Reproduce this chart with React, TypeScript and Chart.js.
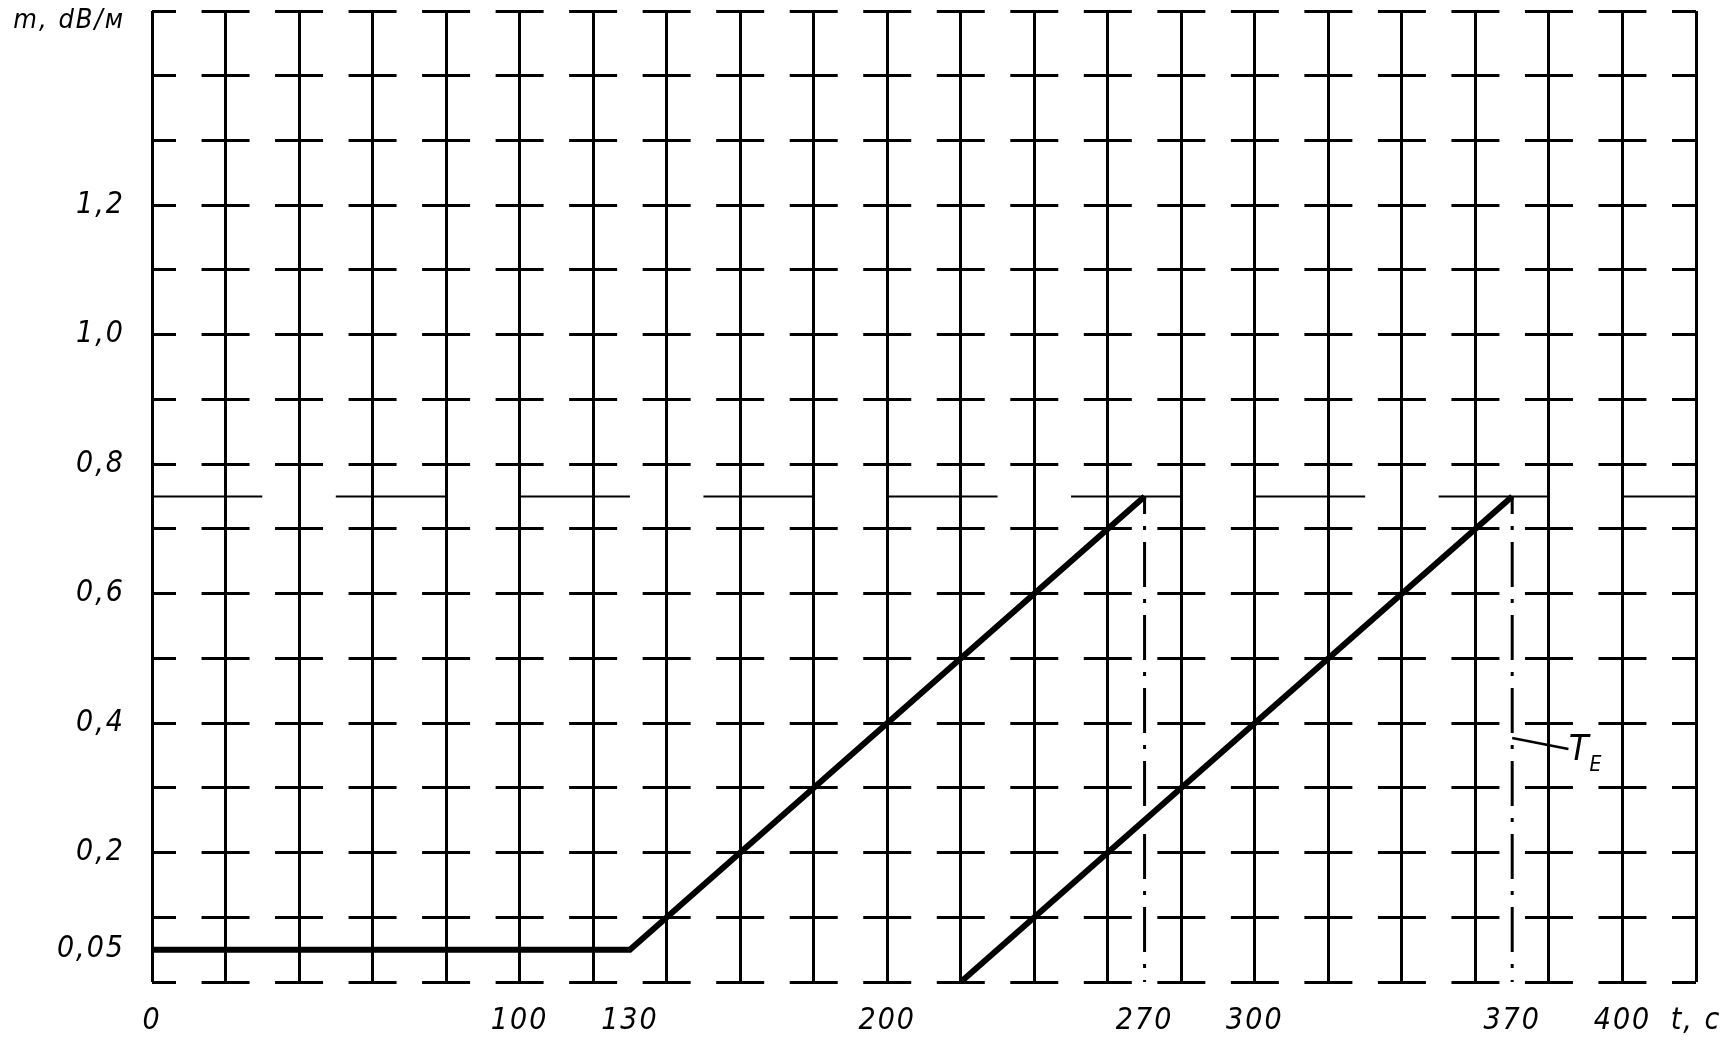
import React, { useEffect, useRef } from "react";
import { Chart, registerables } from "chart.js";

Chart.register(...registerables);

// ---- grid (every 20 s / every 0.1 dB/m) ----
const X_GRID = [0, 20, 40, 60, 80, 100, 120, 140, 160, 180, 200, 220, 240, 260, 280, 300, 320, 340, 360, 380, 400, 420];
const Y_GRID = [0, 0.1, 0.2, 0.3, 0.4, 0.5, 0.6, 0.7, 0.8, 0.9, 1.0, 1.1, 1.2, 1.3, 1.4, 1.5];

// ---- tick labels ----
const X_TICK_VALUES = [0, 100, 130, 200, 270, 300, 370, 400, 420];
const X_TICK_LABELS = ["0", "100", "130", "200", "270", "300", "370", "400", "t, с"];
const Y_TICK_VALUES = [0.05, 0.2, 0.4, 0.6, 0.8, 1.0, 1.2];
const Y_TICK_LABELS = ["0,05", "0,2", "0,4", "0,6", "0,8", "1,0", "1,2"];
const Y_AXIS_TITLE = "m, dB/м";

// ---- series ----
const CURVE1_T = [0, 130, 270];
const CURVE1_M = [0.05, 0.05, 0.75];
const CURVE2_T = [220, 370];
const CURVE2_M = [0, 0.75];
const TE_LINES_T = [270, 370];
const TE_LINE_M = [0, 0.75];
const LIMIT_T = [0, 420];
const LIMIT_M = [0.75, 0.75];
const LEADER_T = [370, 385.3];
const LEADER_M = [0.377, 0.36];
const TE_LABEL = { t: 385.4, m: 0.343, main: "T", subT: 391.0, subM: 0.326, sub: "E" };

const FONT_FAMILY = '"DejaVu Sans Condensed", "DejaVu Sans", sans-serif';
const X_MIN = 0, X_MAX = 420, Y_MIN = 0, Y_MAX = 1.5;

// layout (pixels)
const W = 1728, H = 1040;
const AREA_LEFT = 152, AREA_RIGHT = 1696, AREA_TOP = 11, AREA_BOTTOM = 982;
const CELL = (AREA_RIGHT - AREA_LEFT) / (X_GRID.length - 1);
const H_DASH = 48;
const SPACING = "2px";

const near = (a: number, b: number) => Math.abs(a - b) < 1e-6;

export default function App() {
  const ref = useRef<HTMLCanvasElement>(null);

  useEffect(() => {
    document.body.style.margin = "0";
    const canvas = ref.current;
    if (!canvas) return;

    const xTicks = Array.from(new Set([...X_GRID, ...X_TICK_VALUES])).sort((a, b) => a - b);
    const yTicks = Array.from(new Set([...Y_GRID, ...Y_TICK_VALUES])).sort((a, b) => a - b);
    const pts = (ts: number[], ms: number[]) => ts.map((t, i) => ({ x: t, y: ms[i] }));

    const tickFont = { family: FONT_FAMILY, size: 30, style: "italic" as const, lineHeight: 1.2 };

    const textPlugin = {
      id: "gostText",
      beforeDraw(chart: any) {
        (chart.ctx as any).letterSpacing = SPACING;
      },
      afterDraw(chart: any) {
        const ctx = chart.ctx as CanvasRenderingContext2D;
        const xs = chart.scales.x;
        const ys = chart.scales.y;
        ctx.save();
        (ctx as any).letterSpacing = SPACING;
        ctx.fillStyle = "#000";
        ctx.textBaseline = "alphabetic";
        // axis title
        ctx.font = `italic 27px ${FONT_FAMILY}`;
        ctx.textAlign = "right";
        ctx.fillText(Y_AXIS_TITLE, chart.chartArea.left - 27, chart.chartArea.top + 17);
        // T_E label
        ctx.textAlign = "left";
        ctx.font = `italic 36px ${FONT_FAMILY}`;
        ctx.fillText(TE_LABEL.main, xs.getPixelForValue(TE_LABEL.t), ys.getPixelForValue(TE_LABEL.m));
        ctx.font = `italic 21px ${FONT_FAMILY}`;
        ctx.fillText(TE_LABEL.sub, xs.getPixelForValue(TE_LABEL.subT), ys.getPixelForValue(TE_LABEL.subM));
        ctx.restore();
        (ctx as any).letterSpacing = "0px";
      },
    };

    const base = { borderColor: "#000", pointRadius: 0, tension: 0, fill: false, borderCapStyle: "butt" as const, borderJoinStyle: "miter" as const };

    const chart = new Chart(canvas, {
      type: "line",
      data: {
        datasets: [
          { ...base, data: pts(LIMIT_T, LIMIT_M), borderWidth: 2, borderDash: [CELL * 1.5, CELL] },
          ...TE_LINES_T.map((t) => ({
            ...base,
            data: pts([t, t], TE_LINE_M),
            borderWidth: 3,
            borderDash: [45, 12, 4, 12],
            borderDashOffset: 43,
          })),
          { ...base, data: pts(LEADER_T, LEADER_M), borderWidth: 2.5 },
          { ...base, data: pts(CURVE1_T, CURVE1_M), borderWidth: 6 },
          { ...base, data: pts(CURVE2_T, CURVE2_M), borderWidth: 6 },
        ],
      },
      options: {
        responsive: false,
        animation: false,
        events: [],
        plugins: { legend: { display: false }, tooltip: { enabled: false } },
        layout: { padding: { top: AREA_TOP, right: W - AREA_RIGHT, bottom: 0, left: 0 } },
        scales: {
          x: {
            type: "linear",
            min: X_MIN,
            max: X_MAX,
            afterBuildTicks: (s: any) => {
              s.ticks = xTicks.map((v) => ({ value: v }));
            },
            afterFit: (s: any) => {
              s.height = H - AREA_BOTTOM;
              s.paddingLeft = 0;
              s.paddingRight = 0;
            },
            grid: {
              drawTicks: false,
              color: "#000",
              lineWidth: (c: any) => (c.tick && X_GRID.some((v) => near(v, c.tick.value)) ? 3 : 0),
            },
            border: { display: false },
            ticks: {
              autoSkip: false,
              maxRotation: 0,
              minRotation: 0,
              padding: 21,
              color: "#000",
              font: tickFont,
              callback: (value: any) => {
                const i = X_TICK_VALUES.findIndex((v) => near(v, Number(value)));
                return i >= 0 ? X_TICK_LABELS[i] : "";
              },
            },
          },
          y: {
            type: "linear",
            min: Y_MIN,
            max: Y_MAX,
            afterBuildTicks: (s: any) => {
              s.ticks = yTicks.map((v) => ({ value: v }));
            },
            afterFit: (s: any) => {
              s.width = AREA_LEFT;
              s.paddingTop = 0;
              s.paddingBottom = 0;
            },
            grid: {
              drawTicks: false,
              color: "#000",
              lineWidth: (c: any) => (c.tick && Y_GRID.some((v) => near(v, c.tick.value)) ? 3 : 0),
            },
            border: { display: false, dash: [H_DASH, CELL - H_DASH], dashOffset: H_DASH / 2 },
            ticks: {
              autoSkip: false,
              padding: 27,
              color: "#000",
              font: tickFont,
              callback: (value: any) => {
                const i = Y_TICK_VALUES.findIndex((v) => near(v, Number(value)));
                return i >= 0 ? Y_TICK_LABELS[i] : "";
              },
            },
          },
        },
      },
      plugins: [textPlugin],
    } as any);

    return () => {
      chart.destroy();
    };
  }, []);

  return <canvas ref={ref} width={W} height={H} style={{ display: "block" }} />;
}
